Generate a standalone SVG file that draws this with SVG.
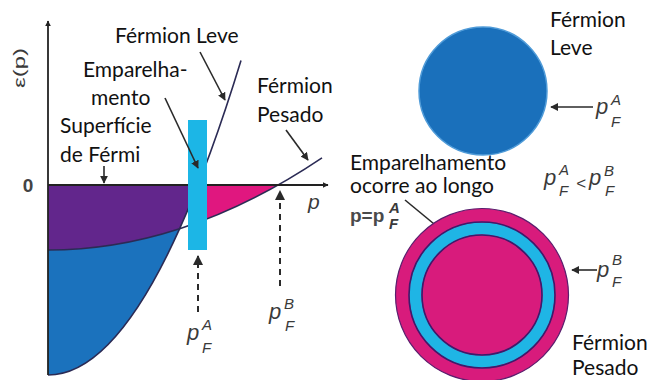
<svg xmlns="http://www.w3.org/2000/svg" width="656" height="380" viewBox="0 0 656 380">
<style>
.lbl{font-family:Lato,"Liberation Sans",sans-serif;font-size:21px;fill:#111}
.m{font-family:"Liberation Sans",Arial,sans-serif;font-style:italic;fill:#3a3a3a}
.mp{font-size:22px}
.ms{font-size:15px}
.ptr{stroke:#2a2a2a;stroke-width:1.6;fill:none;marker-end:url(#ah)}
.dash{stroke:#2a2a2a;stroke-width:2;fill:none;stroke-dasharray:6 5;marker-end:url(#ah)}
.curve{stroke:#2b2b55;stroke-width:1.6;fill:none}
</style>
<defs>
<marker id="ah" viewBox="0 0 10 10" refX="9" refY="5" markerWidth="5" markerHeight="5" orient="auto" markerUnits="strokeWidth">
<path d="M0,0 L10,5 L0,10 Z" fill="#2a2a2a"/>
</marker>
<marker id="ax" viewBox="0 0 10 10" refX="9" refY="5" markerWidth="6" markerHeight="6" orient="auto" markerUnits="userSpaceOnUse">
<path d="M0,0 L10,5 L0,10 Z" fill="#222"/>
</marker>
</defs>
<rect width="656" height="380" fill="#fff"/>

<g id="plot">
<path id="blue-region" d="M48,250 Q113.83,250 179.66,228.7 Q113.83,375 48,375 Z" fill="#1b72bd"/>
<path id="purple-region" d="M48,185 L188,185 L188,209.58 Q183.83,219.43 179.66,228.7 Q113.83,250 48,250 Z" fill="#62268c"/>
<path id="pink-region" d="M207,185 L278,185 Q242.5,205.07 207,218.94 Z" fill="#e0177f"/>
<path class="curve" d="M48,250 Q113.83,250 179.66,228.7 Q250.83,205.67 322,157.8"/>
<path class="curve" d="M48,375 Q113.83,375 179.66,228.7 Q210.33,160.6 241,60.6"/>
<line x1="48" y1="375" x2="48" y2="21" stroke="#222" stroke-width="1.8" marker-end="url(#ax)"/>
<line x1="48" y1="185" x2="328" y2="185" stroke="#222" stroke-width="1.8" marker-end="url(#ax)"/>
<rect id="pairing-bar" x="188" y="120" width="19" height="130" fill="#1cb6e6"/>
<text transform="translate(25,68) rotate(-90)" font-family="Liberation Sans, Arial, sans-serif" font-size="16" fill="#3a3a3a" text-anchor="middle" textLength="40" lengthAdjust="spacingAndGlyphs">ε(p)</text>
<text x="28" y="192" font-family="Liberation Sans, Arial, sans-serif" font-size="19" font-weight="bold" fill="#444" text-anchor="middle">0</text>
<text class="m" x="308" y="209" font-size="21">p</text>
</g>

<g id="connectors">
<line class="ptr" x1="200" y1="52" x2="225" y2="100"/>
<line class="ptr" x1="165" y1="98" x2="198" y2="168"/>
<line class="ptr" x1="286" y1="130" x2="308" y2="160"/>
<line class="ptr" x1="104" y1="166" x2="104" y2="183"/>
<line class="dash" x1="198" y1="312" x2="198" y2="256"/>
<line class="dash" x1="280" y1="286" x2="280" y2="191"/>
<line class="ptr" x1="593" y1="107" x2="551" y2="107"/>
<line class="ptr" x1="597" y1="270" x2="572" y2="270"/>
<line class="ptr" x1="405" y1="200" x2="445" y2="233"/>
</g>

<g id="label-leve-left"><text class="lbl" x="115" y="43">Férmion Leve</text></g>
<g id="label-emparelhamento-left"><text class="lbl" x="83" y="77">Emparelha-</text><text class="lbl" x="91" y="105">mento</text></g>
<g id="label-superficie"><text class="lbl" x="60" y="133">Superfície</text><text class="lbl" x="60" y="162">de Férmi</text></g>
<g id="label-pesado-left"><text class="lbl" x="257" y="93">Férmion</text><text class="lbl" x="257" y="122">Pesado</text></g>

<g id="label-pFA-low"><text class="m mp" x="187" y="340">p</text><text class="m ms" x="202" y="330">A</text><text class="m ms" x="202" y="353">F</text></g>
<g id="label-pFB-low"><text class="m mp" x="269" y="319">p</text><text class="m ms" x="284" y="309">B</text><text class="m ms" x="285" y="331">F</text></g>

<g id="light-sphere">
<circle cx="483" cy="91" r="64" fill="#1a70bb" stroke="#4f9bd8" stroke-width="1.5"/>
</g>
<g id="label-leve-right"><text class="lbl" x="550" y="27">Férmion</text><text class="lbl" x="550" y="55">Leve</text></g>
<g id="label-pFA-right"><text class="m mp" x="596" y="114">p</text><text class="m ms" x="611" y="105">A</text><text class="m ms" x="611" y="127">F</text></g>
<g id="label-inequality"><text class="m mp" x="544" y="185">p</text><text class="m ms" x="559" y="175">A</text><text class="m ms" x="559" y="196">F</text><text class="m" x="576" y="189" font-size="17" font-style="normal">&lt;</text><text class="m mp" x="589" y="185">p</text><text class="m ms" x="604" y="176">B</text><text class="m ms" x="605" y="196">F</text></g>

<g id="heavy-sphere">
<circle cx="482" cy="295" r="86.5" fill="#d81b7c" stroke="#5a1f6e" stroke-width="1.2"/>
<circle cx="482" cy="295" r="66.5" fill="none" stroke="#1fb5e5" stroke-width="12"/>
<circle cx="482" cy="295" r="73" fill="none" stroke="#3d1b6b" stroke-width="1.6"/>
<circle cx="482" cy="295" r="60" fill="none" stroke="#3d1b6b" stroke-width="1.6"/>
</g>
<g id="label-emparelhamento-right"><text class="lbl" x="350" y="170">Emparelhamento</text><text class="lbl" x="350" y="193">ocorre ao longo</text></g>
<g id="label-p-eq"><text font-family="Liberation Sans, Arial, sans-serif" font-weight="bold" font-size="19" fill="#4a4a4a" x="350" y="222">p=p</text><text class="m ms" x="389" y="213" font-style="normal" font-weight="bold" fill="#4a4a4a">A</text><text class="m ms" x="389" y="229" font-style="normal" font-weight="bold" fill="#4a4a4a">F</text></g>
<g id="label-pFB-right"><text class="m mp" x="597" y="277">p</text><text class="m ms" x="612" y="265">B</text><text class="m ms" x="612" y="287">F</text></g>
<g id="label-pesado-right"><text class="lbl" x="572" y="350">Férmion</text><text class="lbl" x="572" y="375">Pesado</text></g>
</svg>
